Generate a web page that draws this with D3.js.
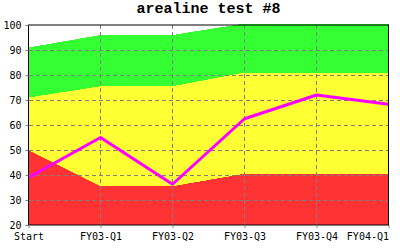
<!DOCTYPE html>
<html>
<head>
<meta charset="utf-8">
<script src="https://cdn.jsdelivr.net/npm/d3@7"></script>
<style>
  html, body { margin: 0; padding: 0; background: #fff; }
  svg { display: block; }
</style>
</head>
<body>
<script>
// ---- data ----
const categories = ["Start", "FY03-Q1", "FY03-Q2", "FY03-Q3", "FY03-Q4", "FY04-Q1"];
const redTop    = [50, 35.5, 35.5, 40.5, 40.5, 40.5];
const yellowTop = [71, 75.5, 75.5, 81, 81, 81];
const greenTop  = [91, 96, 96, 100.6, 100.6, 100.6];
const lineVals  = [39, 55, 36.3, 62.5, 72, 68.3];
const yTicks    = [20, 30, 40, 50, 60, 70, 80, 90, 100];
const chartTitle = "arealine test #8";

(function () {
  // ---- layout ----
  const W = 400, H = 250;
  const pL = 28.5, pR = 388.5, pT = 25, pB = 225;

  const svg = d3.select("body").append("svg").attr("width", W).attr("height", H);

  const x = d3.scalePoint().domain(categories).range([pL, pR]);
  const y = d3.scaleLinear().domain([20, 100]).range([pB, pT]);

  const rows = categories.map((c, i) => ({ c, r: redTop[i], yl: yellowTop[i], g: greenTop[i], v: lineVals[i] }));

  function areaTo(key) {
    return d3.area().x(d => x(d.c)).y0(y(20)).y1(d => y(d[key]));
  }

  svg.append("path").datum(rows).attr("d", areaTo("g")).attr("fill", "#33ff33").attr("shape-rendering", "crispEdges");
  svg.append("path").datum(rows).attr("d", areaTo("yl")).attr("fill", "#ffff33").attr("shape-rendering", "crispEdges");
  svg.append("path").datum(rows).attr("d", areaTo("r")).attr("fill", "#ff3333").attr("shape-rendering", "crispEdges");

  // grid
  const grid = svg.append("g").attr("stroke", "#808080").attr("stroke-width", 1).attr("stroke-dasharray", "4,3").attr("shape-rendering", "crispEdges");
  grid.selectAll("line.h").data(yTicks.filter(t => t > 20 && t < 100)).join("line").attr("class", "h")
    .attr("x1", pL).attr("x2", pR).attr("y1", d => y(d)).attr("y2", d => y(d));
  grid.selectAll("line.v").data(categories.slice(1)).join("line").attr("class", "v")
    .attr("x1", d => x(d)).attr("x2", d => x(d)).attr("y1", pT).attr("y2", pB);

  // line
  svg.append("path").datum(rows)
    .attr("d", d3.line().x(d => x(d.c)).y(d => y(d.v)))
    .attr("fill", "none").attr("stroke", "#ff00ff").attr("stroke-width", 3)
    .attr("stroke-linejoin", "round");

  // frame
  svg.append("rect").attr("x", pL).attr("y", pT).attr("width", pR - pL).attr("height", pB - pT)
    .attr("fill", "none").attr("stroke", "#000").attr("stroke-width", 1);

  // axes
  const yAxis = svg.append("g").attr("transform", `translate(${pL},0)`)
    .call(d3.axisLeft(y).tickValues(yTicks).tickSize(3).tickPadding(4));
  const xAxis = svg.append("g").attr("transform", `translate(0,${pB})`)
    .call(d3.axisBottom(x).tickSize(3).tickPadding(5));
  [yAxis, xAxis].forEach(a => {
    a.select(".domain").remove();
    a.selectAll(".tick line").attr("stroke", "#808080");
    a.selectAll("text").attr("fill", "#000").attr("font-family", "'DejaVu Sans Mono', monospace").attr("font-size", 10);
  });
  xAxis.selectAll(".tick").filter((d, i, n) => i === n.length - 1).select("text")
    .attr("text-anchor", "end").attr("x", 0);

  // title
  svg.append("text").attr("x", (pL + pR) / 2).attr("y", 13)
    .attr("text-anchor", "middle").attr("font-family", "'Liberation Mono', monospace")
    .attr("font-weight", "bold").attr("font-size", 15).text(chartTitle);
})();
</script>
</body>
</html>
